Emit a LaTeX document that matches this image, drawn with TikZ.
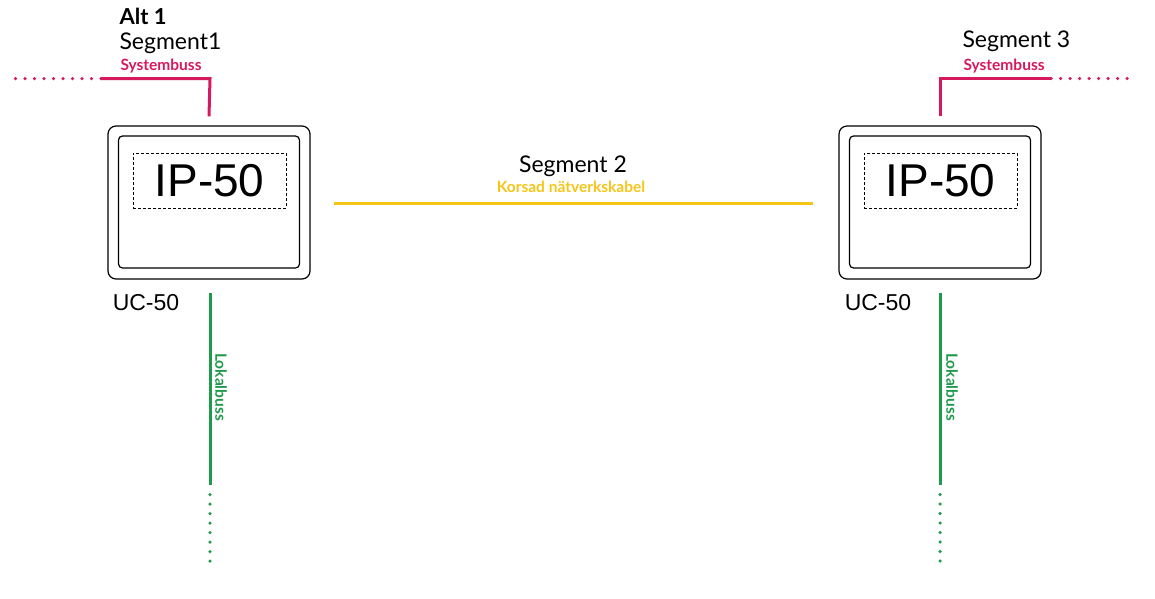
\documentclass[tikz,border=0pt]{standalone}
\usepackage{fontspec}
\setmainfont{Lato}
\newfontfamily\arialfont{Liberation Sans}
\definecolor{sysred}{HTML}{D6185E}
\definecolor{lokgreen}{HTML}{1F9A4C}
\definecolor{netyellow}{HTML}{F5C518}
\tikzset{
  bus/.style={line width=3pt},
  dotbus/.style={line width=3.5pt, line cap=round, dash pattern=on 0pt off 9.5pt},
  buslabel/.style={font=\bfseries\fontsize{15.5}{15.5}\selectfont, inner sep=0pt},
  seglabel/.style={font=\fontsize{23}{23}\selectfont, inner sep=0pt},
  ucbox/.style={draw, line width=1.2pt, rounded corners=8pt, minimum width=202pt, minimum height=153pt},
  ucinner/.style={draw, line width=1.2pt, rounded corners=4pt, minimum width=181pt, minimum height=132pt},
  ipbox/.style={draw, densely dashed, line width=0.8pt, minimum width=153pt, minimum height=55pt,
    font=\arialfont\fontsize{46}{46}\selectfont},
  uclabel/.style={font=\arialfont\fontsize{23}{23}\selectfont, inner sep=0pt}
}
\begin{document}
\begin{tikzpicture}[x=1pt, y=-1pt, line width=1pt]
  \useasboundingbox (0,0) rectangle (1155,598);

  \node[ucbox] (uc1) at (209,202.5) {};
  \node[ucinner] (in1) at (209,202) {};
  \node[ipbox] (ip1) at (209.5,180.5) {IP-50};
  \node[uclabel] (ucl1) at (146,303) {UC-50};

  \node[ucbox] (uc2) at (940,202.5) {};
  \node[ucinner] (in2) at (940,202) {};
  \node[ipbox] (ip2) at (940.5,180.5) {IP-50};
  \node[uclabel] (ucl2) at (878,303) {UC-50};

  \node[font=\bfseries\fontsize{22}{22}\selectfont, inner sep=0pt, anchor=west] (alt) at (119,16) {Alt 1};
  \node[seglabel, anchor=west] (seg1) at (119,43) {Segment1};
  \node[buslabel, sysred, anchor=west] (sys1l) at (120,66) {Systembuss};
  \node[seglabel] (seg2) at (573,166) {Segment 2};
  \node[buslabel, netyellow] (netl) at (571,187) {Korsad nätverkskabel};
  \node[seglabel, anchor=west] (seg3) at (962,41) {Segment 3};
  \node[buslabel, sysred, anchor=west] (sys3l) at (963,66) {Systembuss};
  \node[buslabel, lokgreen, rotate=-90] (lok1l) at (221,387) {Lokalbuss};
  \node[buslabel, lokgreen, rotate=-90] (lok2l) at (952,387) {Lokalbuss};

  \coordinate (sys1) at (210,78.5);
  \coordinate (sys1a) at (101,78.5);
  \coordinate (sys1b) at (15,78.5);
  \coordinate (sys3) at (940,78.5);
  \coordinate (sys3a) at (1051,78.5);
  \coordinate (sys3b) at (1136,78.5);
  \coordinate (lok1a) at (210,485);
  \coordinate (lok1b) at (210,565);
  \coordinate (lok2a) at (940,485);
  \coordinate (lok2b) at (940,565);

  \draw[bus, sysred] (uc1.north) ++(0,-9) -- (sys1) -- (sys1a);
  \draw[dotbus, sysred] (sys1a) -- (sys1b);
  \draw[bus, sysred] (uc2.north) ++(0,-9) -- (sys3) -- (sys3a);
  \draw[dotbus, sysred] (sys3a) -- (sys3b);

  \draw[bus, netyellow] ([xshift=23pt,yshift=-0.5pt]uc1.east) -- ([xshift=-25pt,yshift=-0.5pt]uc2.west);

  \draw[bus, lokgreen] ([yshift=-13pt]uc1.south -| lok1a) -- (lok1a);
  \draw[dotbus, lokgreen] ([yshift=-9.5pt]lok1a) -- (lok1b);
  \draw[bus, lokgreen] ([yshift=-13pt]uc2.south -| lok2a) -- (lok2a);
  \draw[dotbus, lokgreen] ([yshift=-9.5pt]lok2a) -- (lok2b);
\end{tikzpicture}
\end{document}
